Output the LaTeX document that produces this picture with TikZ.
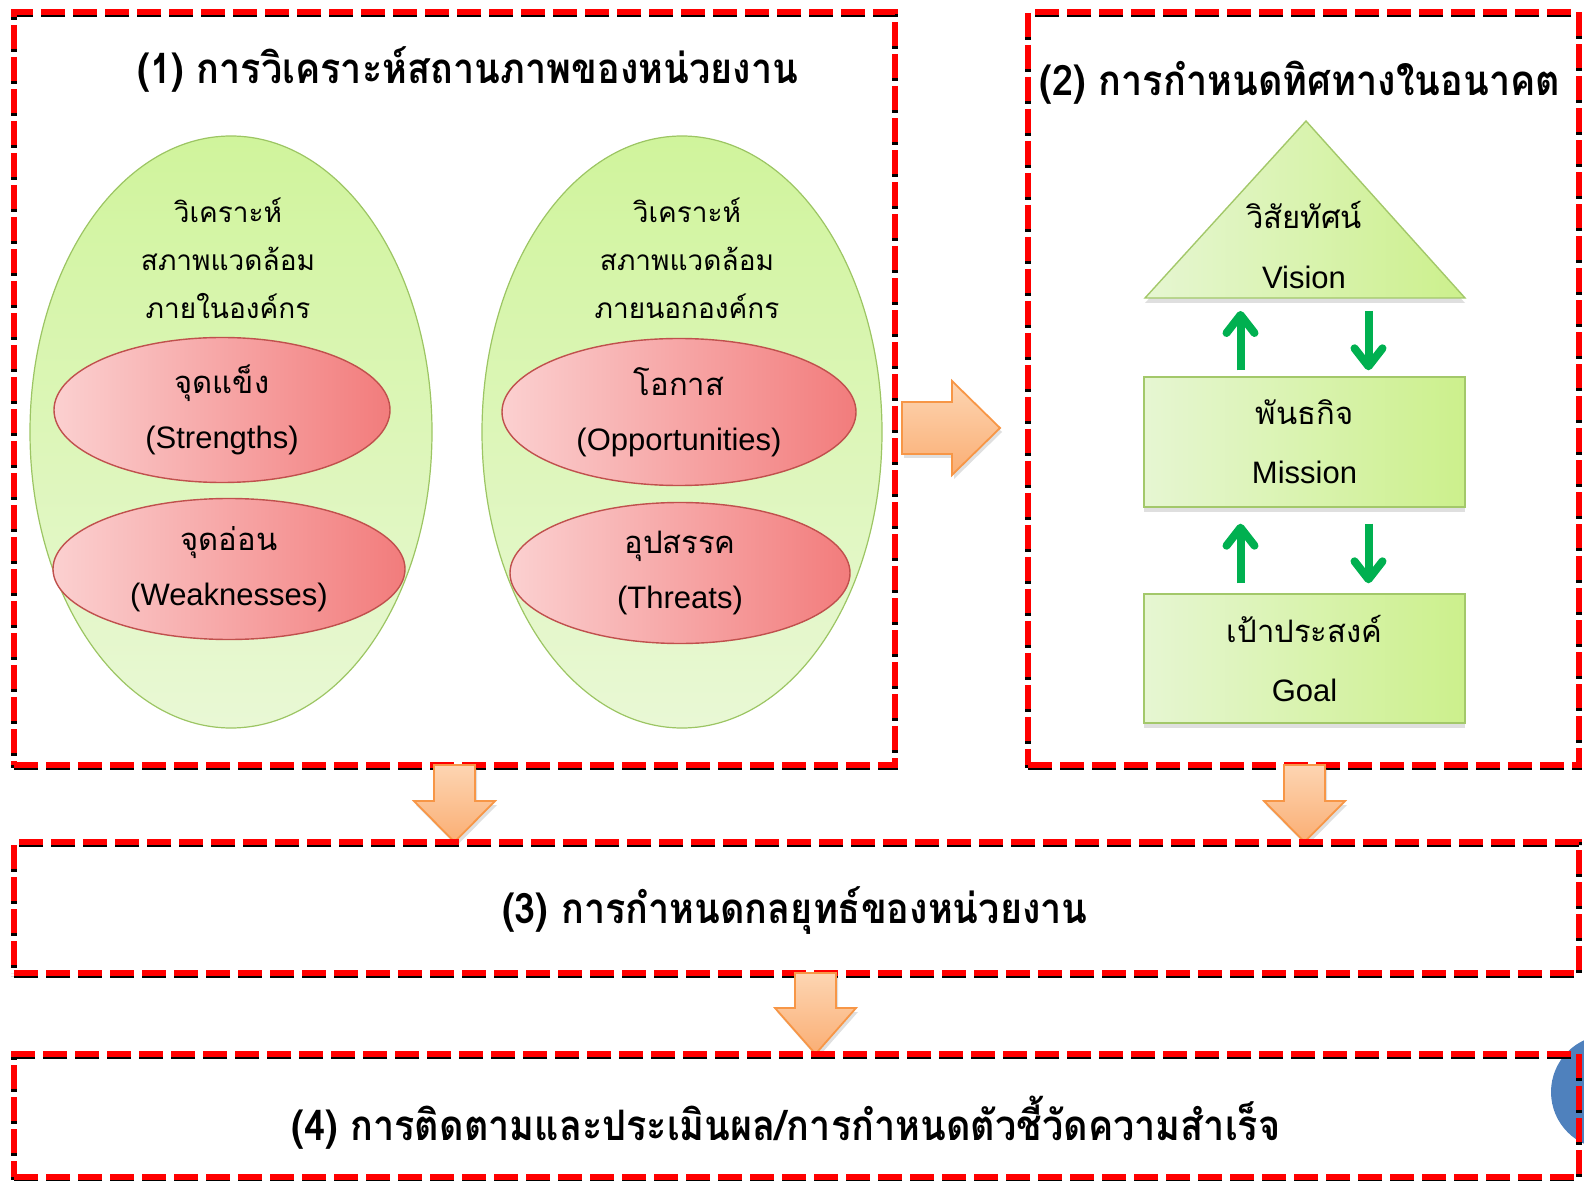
\documentclass[tikz,border=0pt]{standalone}
\usepackage{fontspec}
\setmainfont{Liberation Sans}
\newfontfamily\thai[Script=Thai]{Loma}
\newfontfamily\thaihead[Script=Thai, FakeStretch=0.9]{Loma}
\usetikzlibrary{shapes.geometric,shadows,arrows.meta}

\definecolor{framered}{HTML}{FF0000}
\definecolor{outeredge}{HTML}{9CC563}
\definecolor{outertop}{HTML}{D0F49C}
\definecolor{outerbottom}{HTML}{E9F8D5}
\definecolor{swotedge}{HTML}{C0504D}
\definecolor{swotlight}{HTML}{FBD0D0}
\definecolor{swotdark}{HTML}{F27C7C}
\definecolor{boxedge}{HTML}{A3C86A}
\definecolor{boxlight}{HTML}{E6F6D2}
\definecolor{boxdark}{HTML}{CCF08C}
\definecolor{orangeedge}{HTML}{F79646}
\definecolor{orangelight}{HTML}{FDD5B2}
\definecolor{orangedark}{HTML}{FAAE74}
\definecolor{arrowgreen}{HTML}{00B050}
\definecolor{dotblue}{HTML}{4F81BD}

\begin{document}
\begin{tikzpicture}[x=0.5pt, y=-0.5pt,
    frame/.style={rectangle, draw=framered, line width=2.75pt, dash pattern=on 12pt off 4pt,
      preaction={draw=black, line width=2.75pt, dash pattern=on 12pt off 4pt,
        transform canvas={yshift=-1.3pt}},
      inner sep=0pt},
    heading/.style={inner sep=0pt, font=\thaihead\bfseries\fontsize{21}{24}\selectfont},
    outer/.style={ellipse, draw=outeredge, line width=0.6pt, top color=outertop,
      bottom color=outerbottom, minimum width=201pt, minimum height=296pt, inner sep=0pt},
    outertext/.style={align=center, inner sep=0pt, font=\thai\fontsize{14}{24}\selectfont},
    swot/.style={ellipse, draw=swotedge, line width=0.7pt, left color=swotlight,
      right color=swotdark, inner sep=0pt, align=center,
      font=\fontsize{15.5}{27.5}\selectfont},
    greenshape/.style={draw=boxedge, line width=0.7pt, left color=boxlight,
      right color=boxdark, drop shadow={opacity=0.25, shadow xshift=0pt, shadow yshift=-2.5pt}},
    goalbox/.style={greenshape, rectangle, minimum width=160.5pt, inner sep=0pt,
      align=center, font=\fontsize{15.5}{29.5}\selectfont},
    linkarrow/.style={draw=arrowgreen, line width=4pt,
      -{Straight Barb[length=9pt, width=14pt, round]}},
    blockarrow/.style={draw=orangeedge, line width=0.9pt, top color=orangelight,
      bottom color=orangedark, drop shadow={opacity=0.25, shadow xshift=1pt, shadow yshift=-2pt}}]

  \clip (0,0) rectangle (1584,1181);

  % (1) and (2)
  \node [frame, minimum width=440.5pt, minimum height=376.5pt] (sitbox) at (454.5,388.5) {};
  \node [frame, minimum width=275.5pt, minimum height=376.5pt] (dirbox) at (1303.5,388.5) {};
  \node [heading] (sittitle) at (468,69) {(1) การวิเคราะห์สถานภาพของหน่วยงาน};
  \node [heading] (dirtitle) at (1300,83) {(2) การกำหนดทิศทางในอนาคต};

  \node [outer] (inside) at (231,432) {};
  \node [outer, minimum width=200pt] (outside) at (682,432) {};
  \node [outertext] (insidetext) at (228,258) {วิเคราะห์\\สภาพแวดล้อม\\ภายในองค์กร};
  \node [outertext] (outsidetext) at (687,258) {วิเคราะห์\\สภาพแวดล้อม\\ภายนอกองค์กร};

  \node [swot, minimum width=168pt, minimum height=72.5pt] (strength) at (222,410)
    {{\thai จุดแข็ง}\\(Strengths)};
  \node [swot, minimum width=176pt, minimum height=70.5pt] (weakness) at (229,569)
    {{\thai จุดอ่อน}\\(Weaknesses)};
  \node [swot, minimum width=177pt, minimum height=73.5pt] (chance) at (679,412)
    {{\thai โอกาส}\\(Opportunities)};
  \node [swot, minimum width=170pt, minimum height=70.5pt] (threat) at (680,573)
    {{\thai อุปสรรค}\\(Threats)};

  \draw [greenshape] (1145,298) -- (1306,121) -- (1465,298) -- cycle;
  \coordinate (visionbase) at (1304.5,298);
  \node [align=center, inner sep=0pt, font=\fontsize{15.5}{30}\selectfont] (vision) at (1304,245)
    {{\thai วิสัยทัศน์}\\Vision};
  \node [goalbox, minimum height=65pt] (mission) at (1304.5,442) {{\thai พันธกิจ}\\Mission};
  \node [goalbox, minimum height=64.5pt] (goal) at (1304.5,658.5) {{\thai เป้าประสงค์}\\Goal};

  \draw [linkarrow] ([xshift=-32pt, yshift=3pt]mission.north) -- ([xshift=-32pt, yshift=-6.5pt]visionbase);
  \draw [linkarrow] ([xshift=32pt, yshift=-6.5pt]visionbase) -- ([xshift=32pt, yshift=3pt]mission.north);
  \draw [linkarrow] ([xshift=-32pt, yshift=5pt]goal.north) -- ([xshift=-32pt, yshift=-8pt]mission.south);
  \draw [linkarrow] ([xshift=32pt, yshift=-8pt]mission.south) -- ([xshift=32pt, yshift=5pt]goal.north);

  % block arrows
  \draw [blockarrow] (902,402) -- (952,402) -- (952,381) -- (1000,428) -- (952,475)
    -- (952,454) -- (902,454) -- cycle;
  \draw [blockarrow] (434,765) -- (475,765) -- (475,801) -- (495,801) -- (454.5,842)
    -- (414,801) -- (434,801) -- cycle;
  \draw [blockarrow] (1284,765) -- (1325,765) -- (1325,801) -- (1345,801) -- (1304.5,842)
    -- (1264,801) -- (1284,801) -- cycle;

  % (3)
  \node [frame, minimum width=782.5pt, minimum height=65.5pt] (stratbox) at (796.5,907.5) {};
  \node [heading] (strattitle) at (795,911) {(3) การกำหนดกลยุทธ์ของหน่วยงาน};

  \draw [blockarrow] (795,973) -- (836,973) -- (836,1008) -- (856,1008) -- (815.5,1054)
    -- (775,1008) -- (795,1008) -- cycle;

  % (4)
  \fill [dotblue] (1608,1092) circle (57);
  \node [frame, minimum width=782.5pt, minimum height=61.5pt] (evalbox) at (796.5,1115.5) {};
  \node [heading] (evaltitle) at (786,1123) {(4) การติดตามและประเมินผล/การกำหนดตัวชี้วัดความสำเร็จ};
\end{tikzpicture}
\end{document}
